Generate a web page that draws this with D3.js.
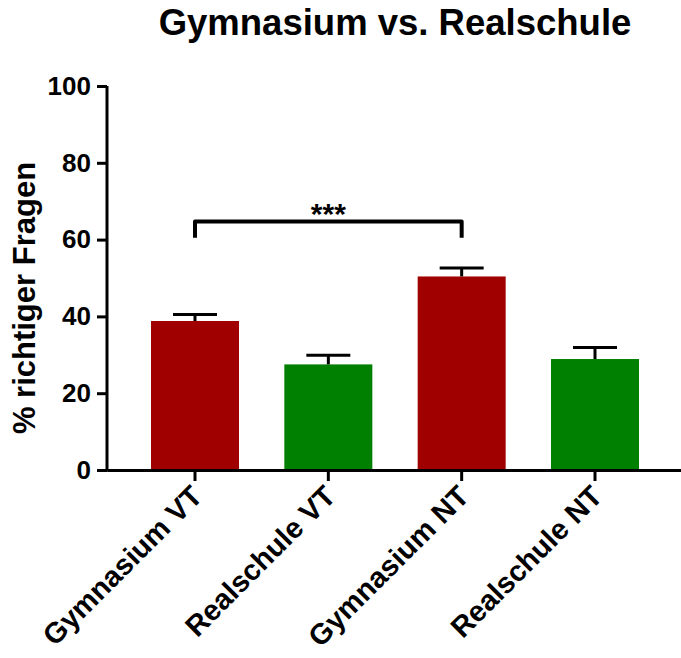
<!DOCTYPE html>
<html>
<head>
<meta charset="utf-8">
<script src="https://cdn.jsdelivr.net/npm/d3@7"></script>
<style>
  html, body { margin: 0; padding: 0; background: #fff; }
  svg { display: block; }
  text { font-family: "Liberation Sans", Arial, sans-serif; font-weight: bold; }
</style>
</head>
<body>
<script>
const categories = ["Gymnasium VT", "Realschule VT", "Gymnasium NT", "Realschule NT"];
const means = [38.8, 27.5, 50.4, 28.9];
const errors = [1.7, 2.4, 2.2, 3.0];
const barColors = ["#a00000", "#008000", "#a00000", "#008000"];
const yTicks = [0, 20, 40, 60, 80, 100];
const sigFrom = ["Gymnasium VT"];
const sigTo = ["Gymnasium NT"];
const sigLevel = [64.7];
const sigDrop = [60.5];
const sigLabel = ["***"];

const W = 681, H = 658;
const svg = d3.select("body").append("svg").attr("width", W).attr("height", H);

const y = d3.scaleLinear().domain([0, 100]).range([470, 86]);
const x = d3.scaleBand().domain(categories).range([107, 683]).paddingInner(0.34).paddingOuter(0.33);

// title
svg.append("text").attr("x", 395).attr("y", 35).attr("text-anchor", "middle")
  .attr("font-size", 36.5).text("Gymnasium vs. Realschule");

// y label
svg.append("text").attr("transform", "translate(35,298) rotate(-90)").attr("text-anchor", "middle")
  .attr("font-size", 31).text("% richtiger Fragen");

// bars
svg.append("g").selectAll("rect").data(categories).join("rect")
  .attr("x", d => x(d)).attr("width", x.bandwidth())
  .attr("y", (d, i) => y(means[i])).attr("height", (d, i) => y(0) - y(means[i]))
  .attr("fill", (d, i) => barColors[i]);

// error bars (upper only)
const eb = svg.append("g").attr("stroke", "#000").attr("stroke-width", 3);
categories.forEach((c, i) => {
  const cx = x(c) + x.bandwidth() / 2;
  eb.append("line").attr("x1", cx).attr("x2", cx).attr("y1", y(means[i])).attr("y2", y(means[i] + errors[i]));
  eb.append("line").attr("x1", cx - 22).attr("x2", cx + 22).attr("y1", y(means[i] + errors[i])).attr("y2", y(means[i] + errors[i]));
});

// axes
const yAxis = svg.append("g").attr("transform", "translate(107,0)")
  .call(d3.axisLeft(y).tickValues(yTicks).tickSize(10).tickSizeOuter(0).tickPadding(6));
const xAxis = svg.append("g").attr("transform", "translate(0,470)")
  .call(d3.axisBottom(x).tickSize(11).tickSizeOuter(0).tickFormat(() => ""));
[yAxis, xAxis].forEach(g => {
  g.select(".domain").attr("stroke", "#000").attr("stroke-width", 3);
  g.selectAll(".tick line").attr("stroke", "#000").attr("stroke-width", 3);
});
yAxis.select(".domain").attr("d", `M0,${y(100)}V${y(0) + 1.5}`);
yAxis.selectAll(".tick text").attr("font-size", 26).attr("font-family", "Liberation Sans, Arial, sans-serif")
  .attr("font-weight", "bold").attr("fill", "#000");

// x labels rotated
svg.append("g").selectAll("text").data(categories).join("text")
  .attr("transform", d => `translate(${x(d) + x.bandwidth() / 2 + 9},${498}) rotate(-45)`)
  .attr("text-anchor", "end").attr("font-size", 29).text(d => d);

// significance bracket
const sg = svg.append("g");
sigFrom.forEach((f, i) => {
  const x1 = x(f) + x.bandwidth() / 2, x2 = x(sigTo[i]) + x.bandwidth() / 2;
  sg.append("path")
    .attr("d", `M${x1},${y(sigDrop[i])}V${y(sigLevel[i])}H${x2}V${y(sigDrop[i])}`)
    .attr("fill", "none").attr("stroke", "#000").attr("stroke-width", 4).attr("stroke-linejoin", "round");
  sg.append("text").attr("x", (x1 + x2) / 2).attr("y", y(sigLevel[i]) + 2).attr("text-anchor", "middle")
    .attr("font-size", 30).text(sigLabel[i]);
});
</script>
</body>
</html>
